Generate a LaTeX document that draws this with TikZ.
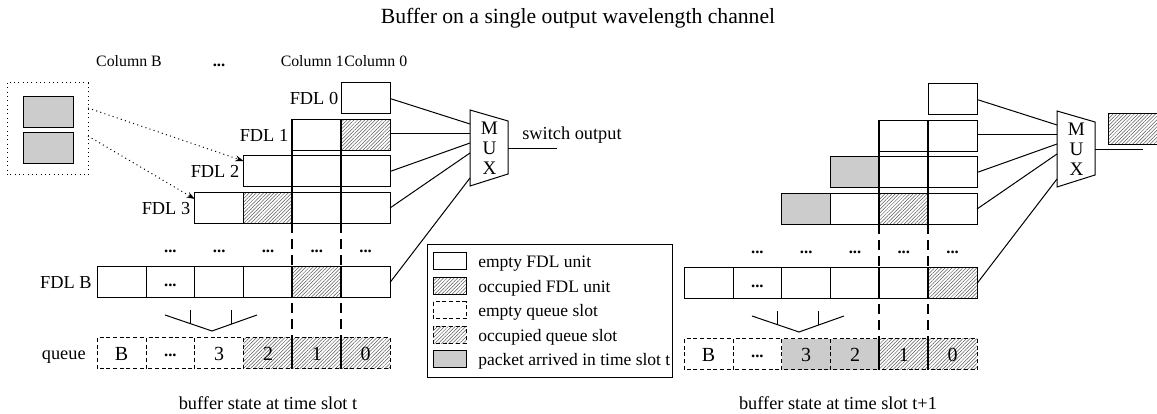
\documentclass[tikz,border=0pt]{standalone}
\usepackage{fontspec}
\setmainfont{Liberation Serif}
\usetikzlibrary{patterns.meta,arrows.meta}

\tikzset{
    fdlunit/.style={draw, line width=.6pt},
    qslot/.style={draw, line width=.6pt, dash pattern=on 2.4pt off 1.6pt},
    busy/.style={pattern={Lines[angle=45,distance=1.5pt,line width=.3pt]}, pattern color=black!65},
    arrived/.style={fill=black!20},
    colline/.style={line width=1.3pt},
    link/.style={line width=.6pt},
    dots/.style={font=\fontsize{10}{12}\selectfont\bfseries},
    lbl/.style={anchor=base east, font=\fontsize{11}{13}\selectfont},
    colhead/.style={font=\fontsize{9.5}{11}\selectfont},
    legtext/.style={anchor=base west, font=\fontsize{10.5}{12}\selectfont},
}

\begin{document}
\begin{tikzpicture}[x=.6pt, y=-.6pt, every node/.style={inner sep=0pt}, font=\fontsize{11}{13}\selectfont]
\useasboundingbox (0,0) rectangle (1157,414);
\node (title) at (578,18) {\fontsize{13}{15}\selectfont Buffer on a single output wavelength channel};

% time slot t
\begin{scope}
    \fill[busy](341.2,119.5) rectangle (390,150.5);
    \fill[busy](243.6,192.5) rectangle (292.4,223.5);
    \fill[busy](292.4,267) rectangle (341.2,298);
    \fill[busy](243.6,338) rectangle (390,369);
\foreach \r in {0,...,3}
    \foreach \k in {0,...,\r}
    {
        \draw[fdlunit]({390-48.8*\k},{83+36.5*\r}) rectangle ++(-48.8,31);
    }
\foreach \k in {0,...,5}
{
    \draw[fdlunit]({390-48.8*\k},267) rectangle ++(-48.8,31);
    \draw[qslot]({390-48.8*\k},338) rectangle ++(-48.8,31);
}
\foreach \c in {292.4,341.2}
{
    \draw[colline](\c,119.5)--(\c,223.5);
    \draw[colline,dash pattern=on 6pt off 3.6pt](\c,223.5)--(\c,338);
    \draw[colline](\c,267)--(\c,298);
    \draw[colline](\c,338)--(\c,369);
}
\foreach \k in {0,...,4}
{
    \node[dots] (ldots\k) at ({365.6-48.8*\k},251) {...};
}
\node[dots] (lbdots) at (170.4,285) {...};
\foreach \k/\t in {0/0,1/1,2/2,3/3,5/B}
{
    \node[font=\fontsize{12}{14}\selectfont] (lq\k) at ({365.6-48.8*\k},353.5) {\t};
}
\node[dots] (lqdots) at (170.4,355.5) {...};

\node[lbl] (fdl0) at (338.5,105) {FDL 0};
\node[lbl] (fdl1) at (288.5,141.5) {FDL 1};
\node[lbl] (fdl2) at (239.5,178) {FDL 2};
\node[lbl] (fdl3) at (190.5,214.5) {FDL 3};
\node[lbl] (fdlB) at (92,289) {FDL B};
\node[lbl] (queue) at (86,360) {queue};

\node[colhead,anchor=base] (colB) at (129,66.5) {Column B};
\node[dots,anchor=base] (coldots) at (219,66.5) {...};
\node[colhead,anchor=base east] (col1) at (344,66.5) {Column 1};
\node[colhead,anchor=base west] (col0) at (344,66.5) {Column 0};

% arriving packets
\draw[dotted,line width=.6pt](7,83) rectangle (88,175);
\draw[fdlunit,arrived](23,97) rectangle (73,128);
\draw[fdlunit,arrived](23,133) rectangle (73,164);
\coordinate (pkt1) at (88,108);
\coordinate (pkt2) at (88,136);
\coordinate (fdl2in) at (243.6,161);
\coordinate (fdl3in) at (194.8,199);
\draw[dotted,line width=.6pt,-{Stealth[length=5pt,width=3.5pt]}](pkt1)--(fdl2in);
\draw[dotted,line width=.6pt,-{Stealth[length=5pt,width=3.5pt]}](pkt2)--(fdl3in);

% multiplexer
\draw[fdlunit](470,110)--(508,121)--(508,174)--(470,186)--cycle;
\node[align=center,font=\fontsize{11.5}{12}\selectfont] (mux) at (489.5,148) {M\\U\\X};
\coordinate (out0) at (390,98.5);  \coordinate (in0) at (470,124);
\coordinate (out1) at (390,134);   \coordinate (in1) at (470,134);
\coordinate (out2) at (390,171.5); \coordinate (in2) at (470,143);
\coordinate (out3) at (390,208);   \coordinate (in3) at (470,153);
\coordinate (outB) at (390,282.5); \coordinate (inB) at (470,178);
\foreach \i in {0,1,2,3,B}
{
    \draw[link](out\i)--(in\i);
}
\coordinate (muxout) at (508,149);
\coordinate (switch) at (557,149);
\draw[link](muxout)--(switch);
\node[anchor=base west] (swout) at (522,140) {switch output};

\draw[link](165,315)--(212,331)--(257,315);
\draw[link](190,310)--(190,323.5);
\draw[link](231,310)--(231,324);
\node (lcapt) at (268,403) {buffer state at time slot t};
\end{scope}

% time slot t+1
\begin{scope}[shift={(587,1)}]
    \fill[arrived](243.6,156) rectangle (292.4,187);
    \fill[arrived](194.8,192.5) rectangle (243.6,223.5);
    \fill[busy](292.4,192.5) rectangle (341.2,223.5);
    \fill[busy](341.2,267) rectangle (390,298);
    \fill[arrived](194.8,338) rectangle (292.4,369);
    \fill[busy](292.4,338) rectangle (390,369);
\foreach \r in {0,...,3}
    \foreach \k in {0,...,\r}
    {
        \draw[fdlunit]({390-48.8*\k},{83+36.5*\r}) rectangle ++(-48.8,31);
    }
\foreach \k in {0,...,5}
{
    \draw[fdlunit]({390-48.8*\k},267) rectangle ++(-48.8,31);
    \draw[qslot]({390-48.8*\k},338) rectangle ++(-48.8,31);
}
\foreach \c in {292.4,341.2}
{
    \draw[colline](\c,119.5)--(\c,223.5);
    \draw[colline,dash pattern=on 6pt off 3.6pt](\c,223.5)--(\c,338);
    \draw[colline](\c,267)--(\c,298);
    \draw[colline](\c,338)--(\c,369);
}
\foreach \k in {0,...,4}
{
    \node[dots] (rdots\k) at ({365.6-48.8*\k},251) {...};
}
\node[dots] (rbdots) at (170.4,285) {...};
\foreach \k/\t in {0/0,1/1,2/2,3/3,5/B}
{
    \node[font=\fontsize{12}{14}\selectfont] (rq\k) at ({365.6-48.8*\k},353.5) {\t};
}
\node[dots] (rqdots) at (170.4,355.5) {...};

\draw[fdlunit](470,110)--(508,121)--(508,174)--(470,186)--cycle;
\node[align=center,font=\fontsize{11.5}{12}\selectfont] (rmux) at (489.5,148) {M\\U\\X};
\coordinate (out0) at (390,98.5);  \coordinate (in0) at (470,124);
\coordinate (out1) at (390,134);   \coordinate (in1) at (470,134);
\coordinate (out2) at (390,171.5); \coordinate (in2) at (470,143);
\coordinate (out3) at (390,208);   \coordinate (in3) at (470,153);
\coordinate (outB) at (390,282.5); \coordinate (inB) at (470,178);
\foreach \i in {0,1,2,3,B}
{
    \draw[link](out\i)--(in\i);
}
\coordinate (rmuxout) at (508,149);
\coordinate (rswitch) at (556,149);
\draw[link](rmuxout)--(rswitch);
\draw[fdlunit,busy](521,113) rectangle (572,144);

\draw[link](165,315)--(212,331)--(257,315);
\draw[link](190,310)--(190,323.5);
\draw[link](231,310)--(231,324);
\node (rcapt) at (251,402) {buffer state at time slot t+1};
\end{scope}

% legend
\draw[fdlunit](427,245) rectangle (672,378);
\draw[fdlunit](433,253) rectangle ++(33,17);
\draw[fdlunit,busy](433,277.5) rectangle ++(33,17);
\draw[qslot](433,302) rectangle ++(33,17);
\draw[qslot,busy](433,326.5) rectangle ++(33,17);
\draw[fdlunit,arrived](433,351) rectangle ++(33,17);
\foreach \i/\t in {0/empty FDL unit,1/occupied FDL unit,2/empty queue slot,3/occupied queue slot,4/packet arrived in time slot t}
{
    \node[legtext] (leg\i) at (478,{268+24.5*\i}) {\t};
}
\end{tikzpicture}
\end{document}
